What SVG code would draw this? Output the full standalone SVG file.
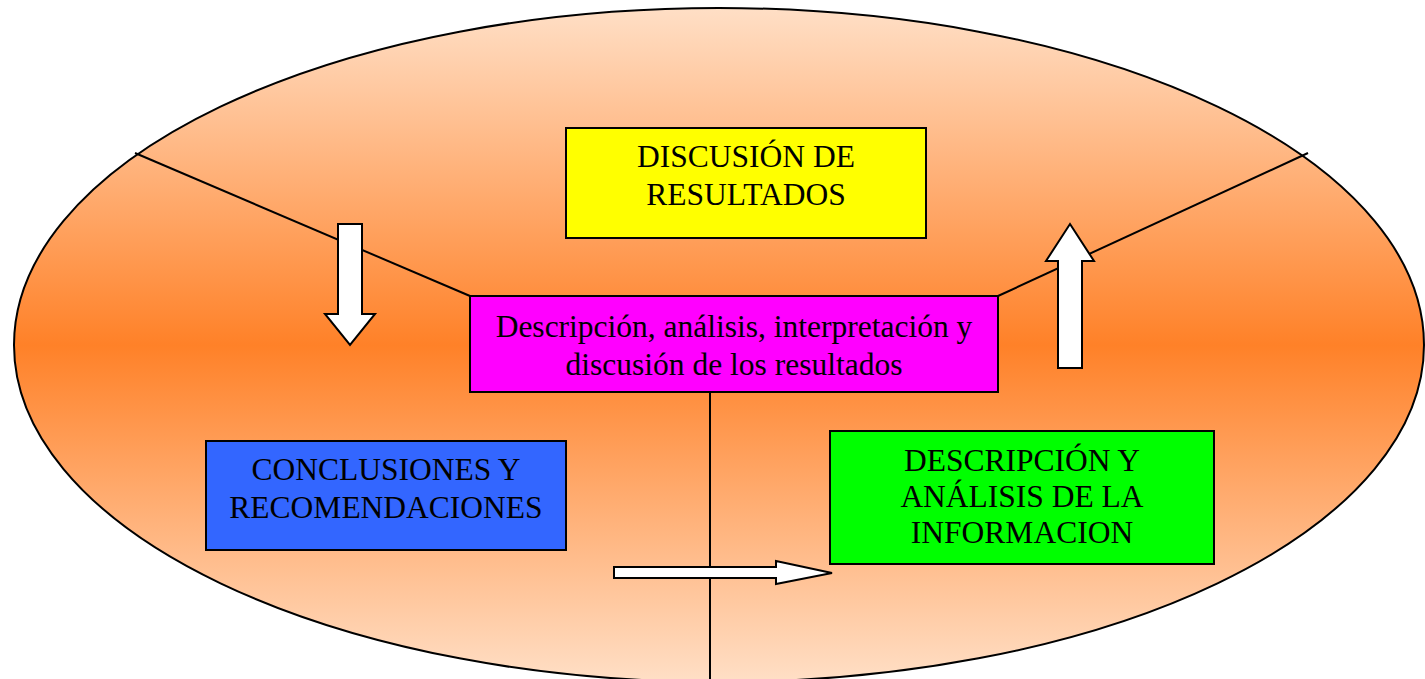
<svg xmlns="http://www.w3.org/2000/svg" width="1425" height="679" viewBox="0 0 1425 679">
  <defs>
    <linearGradient id="bg" gradientUnits="userSpaceOnUse" x1="0" y1="8" x2="0" y2="682">
      <stop offset="0" stop-color="#FFDFC6"/>
      <stop offset="0.5" stop-color="#FF8128"/>
      <stop offset="1" stop-color="#FFDFC6"/>
    </linearGradient>
    <style>
      .box { stroke: #000; stroke-width: 2; }
      .lbl { font-family: "Liberation Serif", "Times New Roman", serif; font-size: 31.5px; fill: #000; text-anchor: middle; }
      .ln { stroke: #000; stroke-width: 2; fill: none; }
      .arr { fill: #fff; stroke: #000; stroke-width: 2; stroke-linejoin: miter; }
    </style>
  </defs>
  <rect width="1425" height="679" fill="#fff"/>
  <ellipse id="background" cx="719" cy="345" rx="705" ry="337" fill="url(#bg)" stroke="#000" stroke-width="2"/>

  <g id="connectors">
    <line class="ln" x1="135" y1="153" x2="470" y2="296"/>
    <line class="ln" x1="1308" y1="153" x2="998" y2="296"/>
    <line class="ln" x1="710" y1="392" x2="710" y2="679"/>
    <path class="arr" d="M338,224 L362,224 L362,314 L375,314 L350,345 L325,314 L338,314 Z"/>
    <path class="arr" d="M1070,224 L1094,261 L1082,261 L1082,368 L1058,368 L1058,261 L1046,261 Z"/>
    <path class="arr" d="M614,567 L776,567 L776,561 L832,573 L776,584 L776,578 L614,578 Z"/>
  </g>

  <g id="node-discusion">
    <rect class="box" x="566" y="128" width="360" height="110" fill="#FFFF00"/>
    <text class="lbl" x="746" y="167">DISCUSIÓN DE</text>
    <text class="lbl" x="746" y="205">RESULTADOS</text>
  </g>

  <g id="node-descripcion-analisis">
    <rect class="box" x="470" y="296" width="528" height="96" fill="#FF00FF"/>
    <text class="lbl" x="734" y="337">Descripción, análisis, interpretación y</text>
    <text class="lbl" x="734" y="375">discusión de los resultados</text>
  </g>

  <g id="node-conclusiones">
    <rect class="box" x="206" y="441" width="360" height="109" fill="#3366FF"/>
    <text class="lbl" x="386" y="480">CONCLUSIONES Y</text>
    <text class="lbl" x="386" y="518">RECOMENDACIONES</text>
  </g>

  <g id="node-informacion">
    <rect class="box" x="830" y="431" width="384" height="133" fill="#00FF00"/>
    <text class="lbl" x="1022" y="471">DESCRIPCIÓN Y</text>
    <text class="lbl" x="1022" y="507">ANÁLISIS DE LA</text>
    <text class="lbl" x="1022" y="543">INFORMACION</text>
  </g>
</svg>
